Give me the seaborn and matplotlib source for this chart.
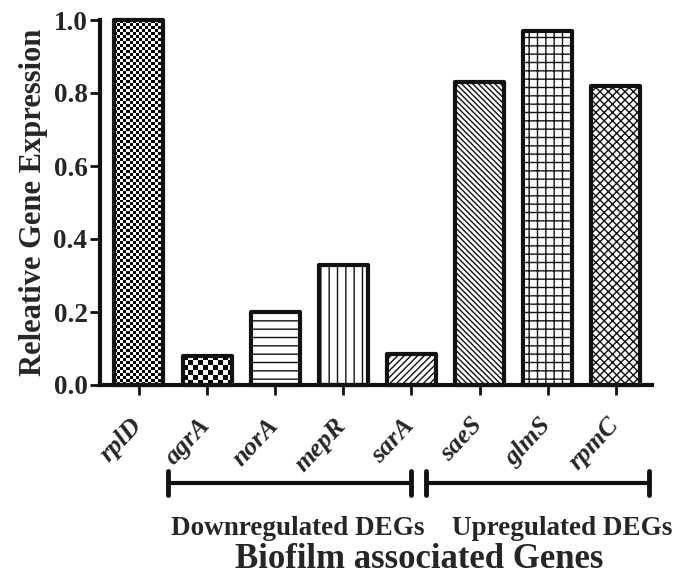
import matplotlib
matplotlib.use("Agg")
import matplotlib.pyplot as plt
import matplotlib.transforms as mtransforms
import seaborn as sns
import pandas as pd
import numpy as np

genes = ["rplD", "agrA", "norA", "mepR", "sarA", "saeS", "glmS", "rpmC"]
values = [1.0, 0.08, 0.20, 0.33, 0.085, 0.83, 0.97, 0.82]
hatches = [None, None, "--", "||", "/////", "\\\\\\\\\\\\", "++", "xxxx"]
checker_px = [3.0, 5.0, None, None, None, None, None, None]
yticks = [0.0, 0.2, 0.4, 0.6, 0.8, 1.0]
ytick_labels = ["0.0", "0.2", "0.4", "0.6", "0.8", "1.0"]
group_names = ["Downregulated DEGs", "Upregulated DEGs"]
group_spans = [(0.43, 4.0), (4.22, 7.48)]
group_label_x = [2.33, 6.21]

sns.set_style("ticks")
plt.rcParams["font.family"] = ["Liberation Serif", "DejaVu Serif"]
plt.rcParams["hatch.linewidth"] = 1.0
plt.rcParams["hatch.color"] = "black"

df = pd.DataFrame({"gene": genes, "value": values})

fig = plt.figure(figsize=(6.88, 5.77), dpi=100)
ax = fig.add_axes([100 / 688, 1 - 385 / 577, 552 / 688, 365 / 577])

sns.barplot(data=df, x="gene", y="value", ax=ax, color="white",
            edgecolor="#111111", linewidth=3.0, width=0.72, saturation=1)

ax.set_xlim(-0.572, 7.53)
ax.set_ylim(0, 1.0)
fig.canvas.draw()

for patch, h, cpx in zip(ax.patches, hatches, checker_px):
    patch.set_clip_on(False)
    patch.set_joinstyle("round")
    if h:
        patch.set_hatch(h)
        patch.set_facecolor("white")
    if cpx:
        patch.set_facecolor("none")
        x0, w, hgt = patch.get_x(), patch.get_width(), patch.get_height()
        p0 = ax.transData.transform((x0, 0))
        p1 = ax.transData.transform((x0 + w, hgt))
        ncol = max(1, int(round(abs(p1[0] - p0[0]) / cpx)))
        nrow = max(1, int(round(abs(p1[1] - p0[1]) / cpx)))
        board = (np.add.outer(np.arange(nrow), np.arange(ncol)) % 2).astype(float)
        im = ax.imshow(board, cmap="gray", vmin=0, vmax=1, interpolation="nearest",
                       extent=(x0, x0 + w, 0, hgt), aspect="auto",
                       zorder=patch.get_zorder() - 0.1)
        im.set_clip_path(patch)

ax.set_xlim(-0.572, 7.53)
ax.set_ylim(0, 1.0)

for side in ["top", "right"]:
    ax.spines[side].set_visible(False)
for side in ["left", "bottom"]:
    ax.spines[side].set_linewidth(3.0)
    ax.spines[side].set_color("#111111")
ax.tick_params(axis="both", direction="out", length=7, width=2, color="#111111", pad=2)

ax.set_yticks(yticks)
ax.set_yticklabels(ytick_labels, fontsize=19.5, fontweight="bold")
ax.set_xticks(range(len(genes)))
ax.set_xticklabels(genes, fontsize=19, fontweight="bold", fontstyle="italic",
                   rotation=47, ha="right", va="center", rotation_mode="anchor")
offset = mtransforms.ScaledTranslation(-1 / 100, -24 / 100, fig.dpi_scale_trans)
for lbl in ax.get_xticklabels():
    lbl.set_transform(lbl.get_transform() + offset)

ax.set_xlabel("")
ax.set_ylabel("Releative Gene Expression", fontsize=22, fontweight="bold", labelpad=4)

trans = mtransforms.blended_transform_factory(ax.transData, ax.transAxes)
yb = -0.268
for name, (x0, x1), xl in zip(group_names, group_spans, group_label_x):
    ax.plot([x0, x1], [yb, yb], color="#111111", lw=3, transform=trans, clip_on=False,
            solid_capstyle="butt")
    for xe in (x0, x1):
        ax.plot([xe, xe], [yb - 0.033, yb + 0.033], color="#111111", lw=3.5,
                transform=trans, clip_on=False, solid_capstyle="round")
    ax.text(xl, -0.392, name, transform=trans,
            ha="center", va="center", fontsize=19.5, fontweight="bold")

ax.text(4.12, -0.50, "Biofilm associated Genes", transform=trans, ha="center",
        va="baseline", fontsize=25, fontweight="bold")

fig.savefig("out.png", dpi=100)
